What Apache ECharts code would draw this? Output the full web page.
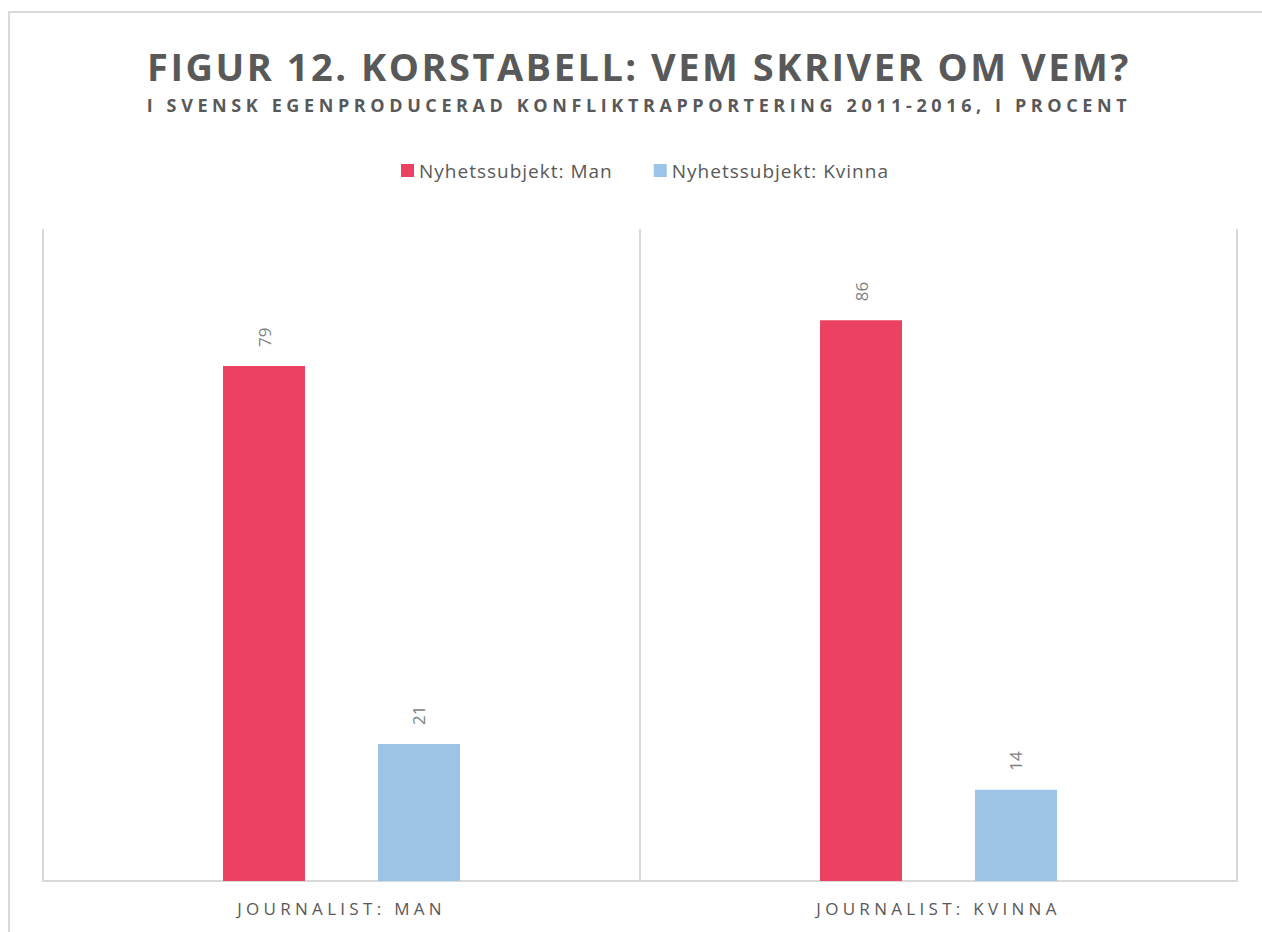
<!DOCTYPE html>
<html><head><meta charset="utf-8">
<script src="https://cdn.jsdelivr.net/npm/echarts@6/dist/echarts.min.js"></script>
<style>
html,body{margin:0;padding:0;background:#fff;}
#c{width:1262px;height:932px;}
#c text[style*="lsTitle"]{letter-spacing:2.5px;}
#c text[style*="lsSub"]{letter-spacing:4.6px;}
#c text[style*="lsAxis"]{letter-spacing:4.3px;}
#c text[style*="lsLeg"]{letter-spacing:1px;}
</style></head><body><div id="c"></div>
<script>
const titleText = 'FIGUR 12. KORSTABELL: VEM SKRIVER OM VEM?';
const subtitleText = 'I SVENSK EGENPRODUCERAD KONFLIKTRAPPORTERING 2011-2016, I PROCENT';
const categories = ['JOURNALIST: MAN', 'JOURNALIST: KVINNA'];
const seriesNames = ['Nyhetssubjekt: Man', 'Nyhetssubjekt: Kvinna'];
const subjectMan = [79, 86];
const subjectKvinna = [21, 14];
const yMin = 0, yMax = 100;

const chart = echarts.init(document.getElementById('c'), null, {renderer: 'svg'});
const gray = '#595959';
const lineColor = '#d9d9d9';
const labelOpt = {
  show: true, position: 'top', rotate: 90, align: 'left', verticalAlign: 'middle',
  distance: 19, color: '#7f7f7f', fontSize: 17, fontFamily: 'Open Sans'
};
chart.setOption({
  backgroundColor: '#fff',
  animation: false,
  graphic: [{
    type: 'rect', shape: {x: 9, y: 12, width: 1300, height: 1000},
    style: {fill: 'none', stroke: lineColor, lineWidth: 2}, silent: true
  }],
  title: [{
    text: titleText, left: 634, top: 42, textAlign: 'center',
    textStyle: {fontFamily: 'Open Sans, lsTitle', fontWeight: 'bold', fontSize: 38, color: gray}
  }, {
    text: subtitleText, left: 634, top: 91, textAlign: 'center',
    textStyle: {fontFamily: 'Open Sans, lsSub', fontWeight: 'bold', fontSize: 18, color: gray}
  }],
  legend: {
    top: 156, left: 396, itemWidth: 13, itemHeight: 13, itemGap: 59,
    icon: 'rect',
    textStyle: {fontFamily: 'Open Sans, lsLeg', fontSize: 19, color: gray},
    data: seriesNames
  },
  grid: {left: 43, right: 25, top: 229, bottom: 51, containLabel: false},
  xAxis: {
    type: 'category', data: categories,
    axisLine: {lineStyle: {color: lineColor, width: 2}},
    axisTick: {show: false},
    splitLine: {show: true, lineStyle: {color: lineColor, width: 2}},
    axisLabel: {margin: 19, fontFamily: 'Open Sans, lsAxis', fontSize: 17, color: gray}
  },
  yAxis: {
    type: 'value', min: yMin, max: yMax,
    show: false, splitLine: {show: false}
  },
  series: [{
    name: seriesNames[0], type: 'bar', data: subjectMan,
    barWidth: 82, barGap: '89%',
    itemStyle: {color: '#EA4260'}, label: labelOpt
  }, {
    name: seriesNames[1], type: 'bar', data: subjectKvinna,
    barWidth: 82,
    itemStyle: {color: '#9DC3E6'}, label: labelOpt
  }]
});
</script></body></html>
